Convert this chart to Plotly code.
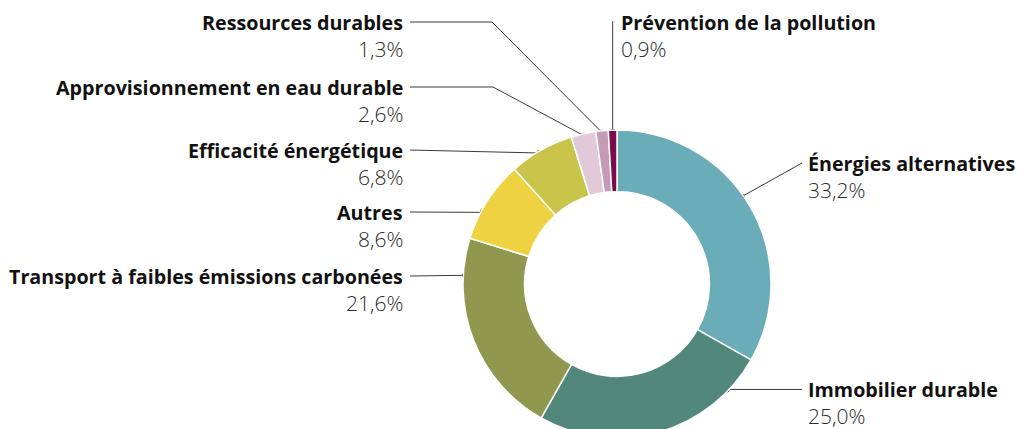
import math
import plotly.graph_objects as go

# ---- data ----
labels = ["Énergies alternatives", "Immobilier durable", "Transport à faibles émissions carbonées",
          "Autres", "Efficacité énergétique", "Approvisionnement en eau durable",
          "Ressources durables", "Prévention de la pollution"]
values = [33.2, 25.0, 21.6, 8.6, 6.8, 2.6, 1.3, 0.9]
colors = ["#6aacb8", "#52887c", "#8f984e", "#efd241", "#c9c44a", "#e1c9d9", "#c49ab6", "#7b0c4b"]

# ---- layout params (pixels) ----
W, H = 1018, 440
CX, CY, R = 617, 284, 154
HOLE = 0.6
# where along each slice the leader dot sits (fraction of the slice's angle)
dot_frac = [0.46, 0.16, 0.82, 0.35, 0.46, 0.5, 0.5, 0.5]
# label placements: (side, text x, name y, knee x or None)
label_pos = [
    ("right", 806, 163, 802),
    ("right", 806, 389, 802),
    ("left", 405, 276, 410),
    ("left", 405, 212, 410),
    ("left", 405, 150, 410),
    ("left", 405, 87, 493),
    ("left", 405, 22, 492),
    ("top", 619, 22, None),
]
PCT_DY = 27
FONT = "Open Sans"

fig = go.Figure()
fig.add_trace(go.Pie(
    labels=labels, values=values, sort=False, direction="clockwise", rotation=0,
    hole=HOLE, textinfo="none", hoverinfo="label+percent",
    marker=dict(colors=colors, line=dict(color="white", width=1.5)),
    domain=dict(x=[(CX - R) / W, (CX + R) / W], y=[(H - CY - R) / H, (H - CY + R) / H]),
    showlegend=False,
))

total = sum(values)
cum = 0.0
dot_x, dot_y = [], []
annotations = []
for i, (lab, v) in enumerate(zip(labels, values)):
    a0 = cum / total * 360
    a1 = (cum + v) / total * 360
    cum += v
    ang = math.radians(a0 + (a1 - a0) * dot_frac[i])
    rr = R - 2
    dx = CX + rr * math.sin(ang)
    dy = CY - rr * math.cos(ang)
    dot_x.append(dx)
    dot_y.append(dy)
    side, tx, ty, knee = label_pos[i]
    if side == "left":
        xs = [410, knee, dx]
        ys = [ty, ty, dy]
        xanchor = "right"
    elif side == "right":
        xs = [dx, knee]
        ys = [dy, ty] if i == 0 else [dy, dy]
        xanchor = "left"
    else:
        xs = [dx, dx]
        ys = [dy, ty - 1]
        xanchor = "left"
    fig.add_trace(go.Scatter(x=xs, y=ys, mode="lines", line=dict(color="#3a3a3a", width=1),
                             hoverinfo="skip", showlegend=False))
    annotations.append(dict(x=tx, y=ty, xref="x", yref="y", text="<b>" + lab + "</b>",
                            showarrow=False, xanchor=xanchor, yanchor="middle",
                            font=dict(family=FONT, size=19.7, color="#111111")))
    pct = f"{v:.1f}".replace(".", ",") + "%"
    annotations.append(dict(x=tx, y=ty + PCT_DY, xref="x", yref="y", text=pct,
                            showarrow=False, xanchor=xanchor, yanchor="middle",
                            font=dict(family=FONT, size=21, color="#2a2a2a", weight=300)))

fig.add_trace(go.Scatter(x=dot_x, y=dot_y, mode="markers",
                         marker=dict(color="black", size=6), hoverinfo="skip", showlegend=False))

fig.update_layout(
    width=W, height=H, margin=dict(l=0, r=0, t=0, b=0),
    paper_bgcolor="white", plot_bgcolor="rgba(0,0,0,0)",
    xaxis=dict(range=[0, W], visible=False, fixedrange=True),
    yaxis=dict(range=[H, 0], visible=False, fixedrange=True),
    annotations=annotations,
)

fig.write_html("out.html", config={"displayModeBar": False},
               post_script="document.body.style.margin='0';document.body.style.overflow='hidden';")
